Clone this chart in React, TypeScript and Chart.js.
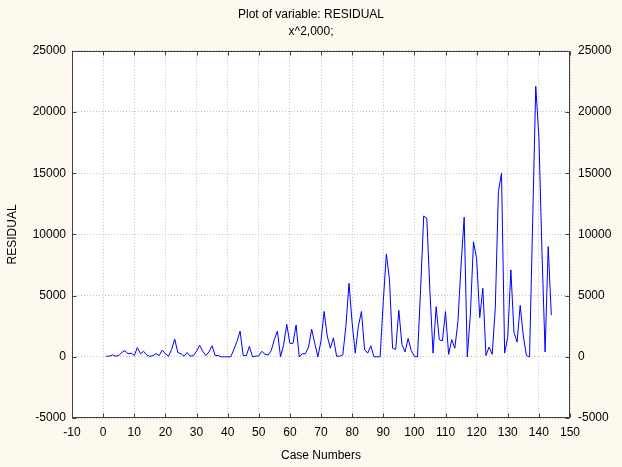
import React, { useEffect, useRef } from "react";
import { Chart, registerables } from "chart.js";

Chart.register(...registerables);

const chartTitle = "Plot of variable: RESIDUAL";
const chartSubtitle = "x^2,000;";
const xAxisTitle = "Case Numbers";
const yAxisTitle = "RESIDUAL";

const xMin = -10;
const xMax = 150;
const xStep = 10;
const yMin = -5000;
const yMax = 25000;
const yStep = 5000;

// squared residuals, cases 1..144
const residual: number[] = [
  50, 50, 150, 50, 100, 350, 500, 250, 300, 100,
  750, 250, 450, 150, 30, 100, 250, 100, 550, 250,
  50, 600, 1450, 350, 250, 50, 350, 50, 100, 450,
  950, 450, 100, 400, 900, 100, 100, 0, 0, 0,
  0, 600, 1250, 2100, 100, 100, 850, 0, 50, 80,
  450, 200, 150, 500, 1400, 2100, 0, 1000, 2650, 1100,
  1100, 2600, 0, 250, 250, 800, 2250, 1100, 0, 1300,
  3700, 1700, 700, 1550, 50, 50, 150, 2500, 6000, 2800,
  300, 2500, 3700, 600, 300, 900, 0, 0, 0, 4500,
  8400, 6300, 700, 600, 3800, 1000, 400, 1500, 500, 50,
  0, 5500, 11500, 11300, 5300, 300, 4100, 1400, 1300, 3700,
  200, 1400, 700, 2900, 7500, 11400, 0, 3500, 9400, 8000,
  3200, 5600, 100, 800, 200, 4000, 13500, 15000, 300, 1600,
  7100, 2000, 1200, 4200, 1700, 100, 0, 11000, 22100, 18000,
  8500, 400, 9000, 3400,
];

const caseNumbers: number[] = residual.map((_, i) => i + 1);

const FONT = "'Liberation Sans', Arial, sans-serif";
const PAGE_BG = "#fdf9ee";

const plainNumber = (v: any) => String(v);

const framePlugin = {
  id: "framePlugin",
  beforeDraw(chart: any) {
    const { ctx, chartArea } = chart;
    ctx.save();
    ctx.fillStyle = PAGE_BG;
    ctx.fillRect(0, 0, chart.width, chart.height);
    ctx.fillStyle = "#ffffff";
    ctx.fillRect(chartArea.left, chartArea.top, chartArea.right - chartArea.left, chartArea.bottom - chartArea.top);
    ctx.restore();
  },
  afterDraw(chart: any) {
    const { ctx, chartArea } = chart;
    const { left, right, top, bottom } = chartArea;
    const xs = chart.scales.x;
    const ys = chart.scales.y;
    ctx.save();
    ctx.strokeStyle = "#404040";
    ctx.lineWidth = 1;
    ctx.setLineDash([]);
    ctx.beginPath();
    const L = Math.round(left) + 0.5;
    const R = Math.round(right) - 0.5;
    const T = Math.round(top) + 0.5;
    const B = Math.round(bottom) - 0.5;
    ctx.rect(L, T, R - L, B - T);
    const tl = 4;
    xs.ticks.forEach((t: any) => {
      const px = Math.round(xs.getPixelForValue(t.value)) + 0.5;
      ctx.moveTo(px, T);
      ctx.lineTo(px, T + tl);
      ctx.moveTo(px, B);
      ctx.lineTo(px, B - tl);
    });
    ys.ticks.forEach((t: any) => {
      const py = Math.round(ys.getPixelForValue(t.value)) + 0.5;
      ctx.moveTo(L, py);
      ctx.lineTo(L + tl, py);
      ctx.moveTo(R, py);
      ctx.lineTo(R - tl, py);
    });
    ctx.stroke();
    ctx.restore();
  },
};

export default function App() {
  const ref = useRef<HTMLCanvasElement | null>(null);

  useEffect(() => {
    document.body.style.margin = "0";
    document.body.style.background = PAGE_BG;
    const canvas = ref.current;
    if (!canvas) return;
    const chart = new Chart(canvas, {
      type: "line",
      data: {
        datasets: [
          {
            label: yAxisTitle,
            data: caseNumbers.map((c, i) => ({ x: c, y: residual[i] })),
            borderColor: "#0000ff",
            borderWidth: 1,
            pointRadius: 0,
            tension: 0,
            fill: false,
          },
        ],
      },
      options: {
        responsive: false,
        animation: false,
        devicePixelRatio: 1,
        layout: { padding: { top: 0, left: 0, right: 0, bottom: 0 } },
        plugins: {
          legend: { display: false },
          tooltip: { enabled: false },
          title: {
            display: true,
            text: chartTitle,
            color: "#000",
            font: { family: FONT, size: 12, weight: "normal" },
            padding: { top: 7, bottom: 3 },
          },
          subtitle: {
            display: true,
            text: chartSubtitle,
            color: "#000",
            font: { family: FONT, size: 12, weight: "normal" },
            padding: { top: 0, bottom: 12 },
          },
        },
        scales: {
          x: {
            type: "linear",
            min: xMin,
            max: xMax,
            position: "bottom",
            ticks: {
              stepSize: xStep,
              color: "#000",
              font: { family: FONT, size: 12 },
              padding: 7,
              maxRotation: 0,
              callback: plainNumber,
            },
            grid: { color: "#c4c4c4", drawTicks: false, lineWidth: 1 },
            border: { display: false, dash: [1, 2] },
            title: {
              display: true,
              text: xAxisTitle,
              color: "#000",
              font: { family: FONT, size: 12 },
              padding: { top: 0, bottom: 4 },
            },
            afterFit(scale: any) {
              scale.height = 49;
            },
          },
          y: {
            type: "linear",
            min: yMin,
            max: yMax,
            position: "left",
            ticks: {
              stepSize: yStep,
              color: "#000",
              font: { family: FONT, size: 12 },
              padding: 6,
              callback: plainNumber,
            },
            grid: { color: "#c4c4c4", drawTicks: false, lineWidth: 1 },
            border: { display: false, dash: [1, 2] },
            title: {
              display: true,
              text: yAxisTitle,
              color: "#000",
              font: { family: FONT, size: 12 },
              padding: { top: 5, bottom: 0 },
            },
            afterFit(scale: any) {
              scale.width = 72;
            },
          },
          y2: {
            type: "linear",
            min: yMin,
            max: yMax,
            position: "right",
            ticks: {
              stepSize: yStep,
              color: "#000",
              font: { family: FONT, size: 12 },
              padding: 8,
              callback: plainNumber,
            },
            grid: { display: false, drawTicks: false },
            border: { display: false },
            afterFit(scale: any) {
              scale.width = 52;
            },
          },
        },
      },
      plugins: [framePlugin],
    });
    return () => chart.destroy();
  }, []);

  return (
    <div style={{ width: 622, height: 467, background: PAGE_BG }}>
      <canvas ref={ref} width={622} height={467} style={{ display: "block" }} />
    </div>
  );
}
